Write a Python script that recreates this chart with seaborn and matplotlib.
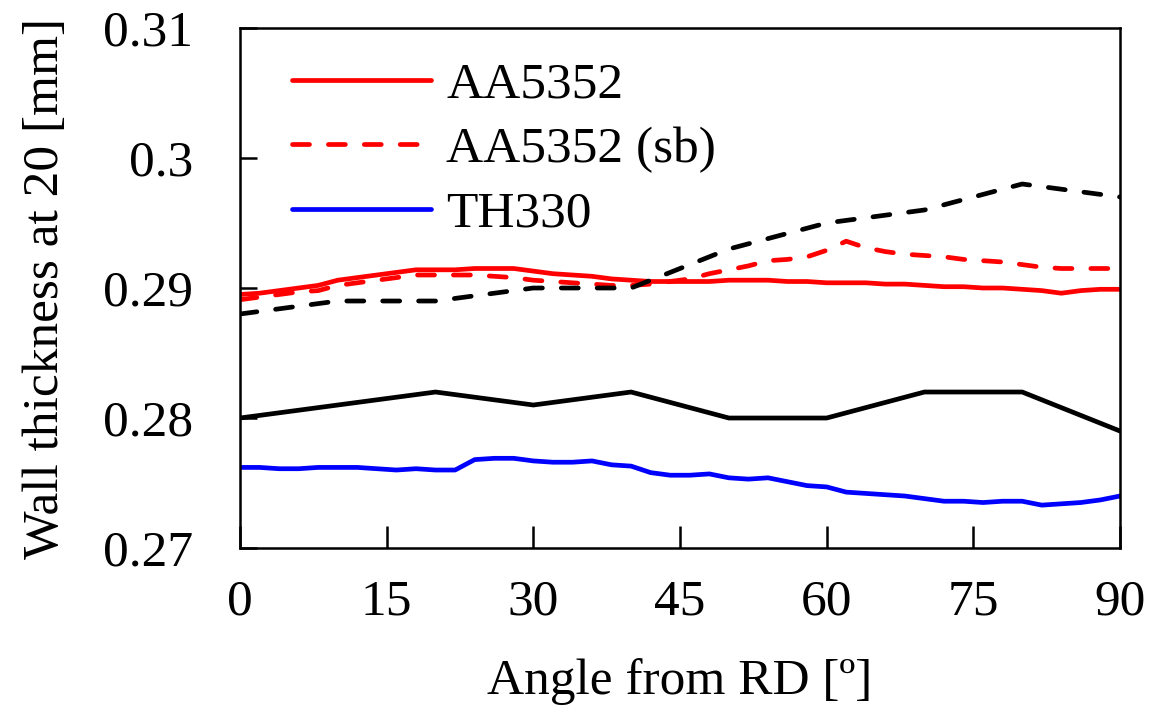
import numpy as np
import pandas as pd
import matplotlib
matplotlib.use("Agg")
import matplotlib.pyplot as plt
import seaborn as sns

# angles (deg) for the measured curves, every 2 degrees
angle_fine = list(range(0, 91, 2))
# angles for the simulated curves
angle_sim = [0, 10, 20, 30, 40, 50, 60, 70, 80, 90]

aa5352 = [0.2895, 0.2896, 0.2898, 0.2900, 0.2902, 0.2906, 0.2908, 0.2910, 0.2912, 0.2914,
          0.2914, 0.2914, 0.2915, 0.2915, 0.2915, 0.2913, 0.2911, 0.2910, 0.2909, 0.2907,
          0.2906, 0.2905, 0.2905, 0.2905, 0.2905, 0.2906, 0.2906, 0.2906, 0.2905, 0.2905,
          0.2904, 0.2904, 0.2904, 0.2903, 0.2903, 0.2902, 0.2901, 0.2901, 0.2900, 0.2900,
          0.2899, 0.2898, 0.2896, 0.2898, 0.2899, 0.2899]
aa5352_sb = [0.2891, 0.2893, 0.2895, 0.2897, 0.2898, 0.2902, 0.2904, 0.2906, 0.2908, 0.2910,
             0.2910, 0.2910, 0.2910, 0.2909, 0.2908, 0.2906, 0.2905, 0.2904, 0.2903, 0.2902,
             0.2902, 0.2903, 0.2905, 0.2907, 0.2911, 0.2914, 0.2917, 0.2921, 0.2922, 0.2924,
             0.2929, 0.2936, 0.2931, 0.2928, 0.2926, 0.2925, 0.2924, 0.2922, 0.2921, 0.2920,
             0.2918, 0.2916, 0.2915, 0.2915, 0.2915, 0.2915]
th330 = [0.2762, 0.2762, 0.2761, 0.2761, 0.2762, 0.2762, 0.2762, 0.2761, 0.2760, 0.2761,
         0.2760, 0.2760, 0.2768, 0.2769, 0.2769, 0.2767, 0.2766, 0.2766, 0.2767, 0.2764,
         0.2763, 0.2758, 0.2756, 0.2756, 0.2757, 0.2754, 0.2753, 0.2754, 0.2751, 0.2748,
         0.2747, 0.2743, 0.2742, 0.2741, 0.2740, 0.2738, 0.2736, 0.2736, 0.2735, 0.2736,
         0.2736, 0.2733, 0.2734, 0.2735, 0.2737, 0.2740]
sim_solid = [0.280, 0.281, 0.282, 0.281, 0.282, 0.280, 0.280, 0.282, 0.282, 0.279]
sim_dashed = [0.288, 0.289, 0.289, 0.290, 0.290, 0.293, 0.295, 0.296, 0.298, 0.297]

sns.set_style("white")
plt.rcParams['font.family'] = ['Liberation Serif', 'DejaVu Serif']
plt.rcParams['text.color'] = 'black'
plt.rcParams['axes.labelcolor'] = 'black'
plt.rcParams['xtick.color'] = 'black'
plt.rcParams['ytick.color'] = 'black'

fig = plt.figure(figsize=(11.5, 7.12), dpi=100)
ax = fig.add_axes([0.2087, 0.2303, 0.9739 - 0.2087, 0.9607 - 0.2303])

lw = 3.4
sns.lineplot(x=angle_fine, y=aa5352, color="red", lw=lw, label="AA5352", ax=ax)
sns.lineplot(x=angle_fine, y=aa5352_sb, color="red", lw=lw, label="AA5352 (sb)", ax=ax)
sns.lineplot(x=angle_fine, y=th330, color="blue", lw=lw, label="TH330", ax=ax)
sns.lineplot(x=angle_sim, y=sim_solid, color="black", lw=lw, ax=ax, legend=False)
sns.lineplot(x=angle_sim, y=sim_dashed, color="black", lw=lw, ax=ax, legend=False)

# dashed styling for the sb / dashed curves
for i in (1, 4):
    ax.lines[i].set_dashes((3.6, 4.0))
    ax.lines[i].set_dash_capstyle("round")

ax.set_xlim(0, 90)
ax.set_ylim(0.27, 0.31)
ax.set_xticks([0, 15, 30, 45, 60, 75, 90])
ax.set_yticks([0.27, 0.28, 0.29, 0.30, 0.31])
ax.set_yticklabels(["0.27", "0.28", "0.29", "0.3", "0.31"])

fs = 37
ax.tick_params(axis="x", direction="in", length=16, width=1.8, pad=22, labelsize=fs,
               top=False, bottom=True)
ax.tick_params(axis="y", direction="in", length=12, width=1.8, pad=34, labelsize=fs,
               left=True, right=False)
for sp in ax.spines.values():
    sp.set_color("black")
    sp.set_linewidth(1.8)

ax.set_xlabel("Angle from RD [º]", fontsize=fs, labelpad=24)
ax.set_ylabel("Wall thickness at 20 [mm]", fontsize=fs, labelpad=24)

leg = ax.legend(handles=ax.lines[:3], labels=["AA5352", "AA5352 (sb)", "TH330"],
                loc="upper left", bbox_to_anchor=(0.059, 0.935), frameon=False,
                fontsize=fs, handlelength=2.7, handletextpad=0.3, labelspacing=0.34,
                borderpad=0, borderaxespad=0)

fig.savefig("out.png", dpi=100)
